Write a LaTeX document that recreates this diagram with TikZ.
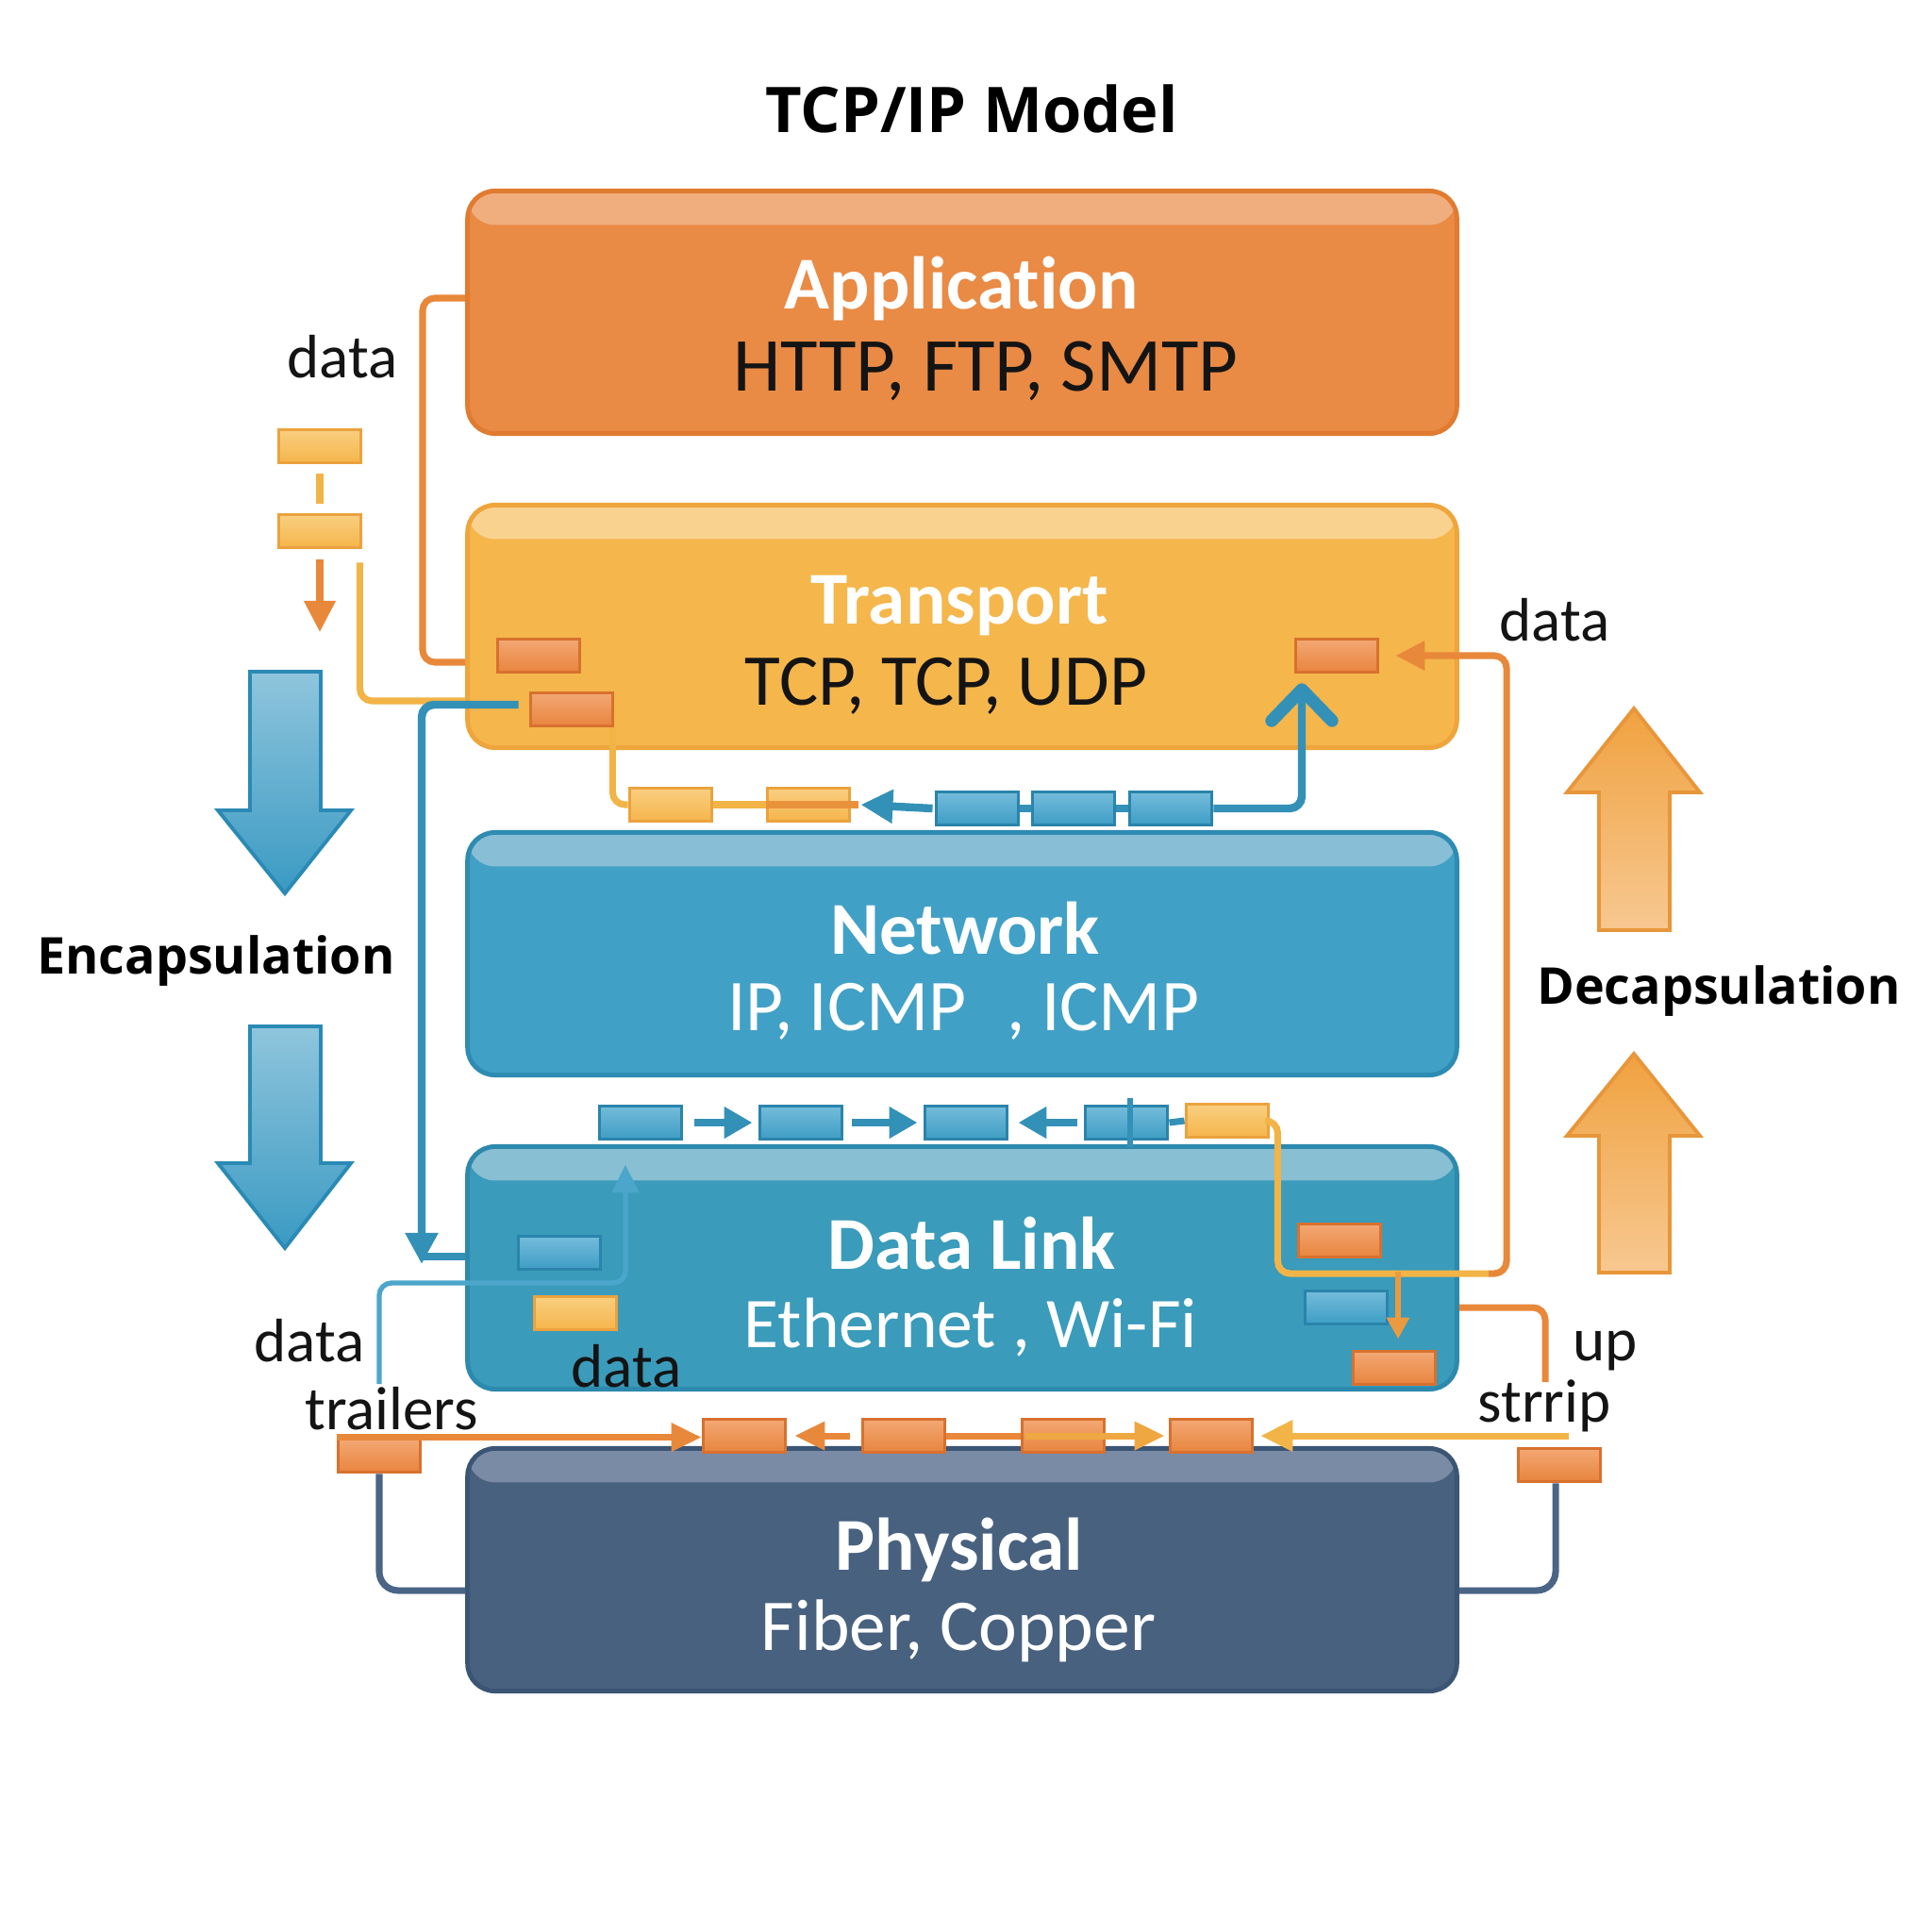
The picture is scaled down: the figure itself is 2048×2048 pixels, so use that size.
\documentclass[tikz,border=0pt]{standalone}
\usepackage{fontspec}
\setmainfont{Carlito}[Ligatures={NoCommon}]
\newfontfamily\headfont{Open Sans}
\usetikzlibrary{arrows.meta,calc}
\definecolor{appF}{HTML}{E98A45}
\definecolor{appB}{HTML}{F0AE7E}
\definecolor{appD}{HTML}{E07B30}
\definecolor{traF}{HTML}{F5B64C}
\definecolor{traB}{HTML}{F9D290}
\definecolor{traD}{HTML}{EEA53C}
\definecolor{netF}{HTML}{41A0C6}
\definecolor{netB}{HTML}{88BED6}
\definecolor{netD}{HTML}{2E8BB2}
\definecolor{dlF}{HTML}{3A9BBB}
\definecolor{dlB}{HTML}{88BFD3}
\definecolor{dlD}{HTML}{2D89AD}
\definecolor{phyF}{HTML}{48617F}
\definecolor{phyB}{HTML}{7A8BA5}
\definecolor{phyD}{HTML}{3B5575}
\definecolor{oLine}{HTML}{E8883A}
\definecolor{yLine}{HTML}{F2B446}
\definecolor{bLine}{HTML}{3391B8}
\definecolor{lbLine}{HTML}{4CA6CB}
\definecolor{sLine}{HTML}{4A6585}
\definecolor{txt}{HTML}{141414}
\definecolor{oTop}{HTML}{F3A774}
\definecolor{oBot}{HTML}{E8853E}
\definecolor{oBrd}{HTML}{D8712E}
\definecolor{yTop}{HTML}{F9CF80}
\definecolor{yBot}{HTML}{F5B54B}
\definecolor{yBrd}{HTML}{EBA23E}
\definecolor{bTop}{HTML}{74BCDB}
\definecolor{bBot}{HTML}{3E9DC5}
\definecolor{bBrd}{HTML}{2A84AB}
\definecolor{eTop}{HTML}{8FC5DC}
\definecolor{eBot}{HTML}{3A9AC3}
\definecolor{eBrd}{HTML}{2A8AB5}
\definecolor{dTop}{HTML}{F0A240}
\definecolor{dBot}{HTML}{F7C891}
\definecolor{dBrd}{HTML}{E8963A}
\begin{document}
\begin{tikzpicture}[x=0.01cm,y=-0.01cm,
  layer/.style={rounded corners=0.29cm, minimum width=10.48cm, minimum height=2.57cm, line width=1.4pt, inner sep=0pt},
  band/.style={path picture={\fill[#1] (path picture bounding box.north west) rectangle ([yshift=-0.36cm]path picture bounding box.north east);}},
  ltitle/.style={text=white, font=\bfseries\fontsize{22.5}{27}\selectfont, inner sep=0pt},
  lsub/.style={font=\fontsize{22}{26}\selectfont, inner sep=0pt},
  pkt/.style={minimum width=0.87cm, minimum height=0.35cm, inner sep=0pt, line width=1.1pt},
  opkt/.style={pkt, draw=oBrd, top color=oTop, bottom color=oBot},
  ypkt/.style={pkt, draw=yBrd, top color=yTop, bottom color=yBot},
  bpkt/.style={pkt, draw=bBrd, top color=bTop, bottom color=bBot},
  lbl/.style={text=txt, font=\fontsize{18.5}{22}\selectfont, inner sep=0pt},
  side/.style={text=black, font=\headfont\bfseries\fontsize{15.3}{18}\selectfont, inner sep=0pt},
  ol/.style={draw=oLine, line width=2pt, rounded corners=0.13cm},
  yl/.style={draw=yLine, line width=2pt, rounded corners=0.13cm},
  bl/.style={draw=bLine, line width=2.4pt, rounded corners=0.13cm},
  tbl/.style={draw=lbLine, line width=1.5pt, rounded corners=0.13cm},
  sl/.style={draw=sLine, line width=2pt, rounded corners=0.2cm},
  barr/.style={draw=bLine, line width=2.4pt, -{Triangle[width=3.2mm,length=3mm]}},
  oarr/.style={draw=oLine, line width=2pt, -{Triangle[width=2.9mm,length=3.2mm]}},
  encarrow/.style={draw=eBrd, line width=1.1pt, top color=eTop, bottom color=eBot},
  decarrow/.style={draw=dBrd, line width=1.1pt, top color=dTop, bottom color=dBot}
]
\useasboundingbox[fill=white] (0,0) rectangle (2048,2048);

% title
\node[text=black, font=\headfont\bfseries\fontsize{19}{23}\selectfont, inner sep=0pt] (title) at (1030,115) {TCP/IP Model};

% layers
\node[layer, fill=appF, draw=appD, band=appB] (app) at (1020,331) {};
\node[layer, fill=traF, draw=traD, band=traB] (tra) at (1020,664) {};
\node[layer, fill=netF, draw=netD, band=netB] (net) at (1020,1011) {};
\node[layer, fill=dlF, draw=dlD, band=dlB] (dl) at (1020,1344) {};
\node[layer, fill=phyF, draw=phyD, band=phyB] (phy) at (1020,1664) {};

\node[ltitle] (appT) at (1019,306) {Application};
\node[lsub, text=txt, font=\fontsize{23}{27}\selectfont] (appS) at (1045,393) {HTTP, FTP, SMTP};
\node[ltitle] (traT) at (1017,642) {Transport};
\node[lsub, text=txt] (traS) at (1003,727) {TCP, TCP, UDP};
\node[ltitle] (netT) at (1023,984) {Network};
\node[lsub, text=white] (netS) at (1021,1072) {IP, ICMP\hspace{0.55em}, ICMP};
\node[ltitle] (dlT) at (1030,1318) {Data Link};
\node[lsub, text=white, font=\fontsize{21.5}{26}\selectfont] (dlS) at (1029,1407) {Ethernet , Wi-Fi};
\node[ltitle] (phyT) at (1017,1643) {Physical};
\node[lsub, text=white] (phyS) at (1016,1729) {Fiber, Copper};

% big arrows
\path[encarrow] (265,712) -- (340,712) -- (340,859) -- (372,859) -- (302,947) -- (231,859) -- (265,859) -- cycle;
\path[encarrow] (265,1088) -- (340,1088) -- (340,1233) -- (372,1233) -- (302,1323) -- (231,1233) -- (265,1233) -- cycle;
\path[decarrow] (1732,751) -- (1802,840) -- (1770,840) -- (1770,986) -- (1695,986) -- (1695,840) -- (1661,840) -- cycle;
\path[decarrow] (1732,1117) -- (1802,1204) -- (1770,1204) -- (1770,1349) -- (1695,1349) -- (1695,1204) -- (1661,1204) -- cycle;

% side labels
\node[side] (enc) at (229,1019) {Encapsulation};
\node[side] (dec) at (1822,1051) {Decapsulation};
\node[lbl] (lData1) at (363,378) {data};
\node[lbl] (lData2) at (1648,657) {data};
\node[lbl] (lData3) at (328,1421) {data};
\node[lbl] (lTrail) at (415,1493) {trailers};
\node[lbl] (lData4) at (664,1448) {data};
\node[lbl] (lUp) at (1702,1432) {up};
\node[lbl] (lStrip) at (1637,1490) {strrip};

% packet nodes
\node[ypkt] (p1) at (339,473) {};
\node[ypkt] (p2) at (339,563) {};

% connectors behind packets
\draw[ol] (app.west |- 0,316) -- (448,316) |- (tra.west |- 0,702);
\draw[draw=yLine, line width=2pt, shorten <=2.6pt, shorten >=2.6pt] (p1.south) -- (p2.north);
\coordinate (encTip) at (339,670);
\draw[oarr, -{Triangle[width=3.2mm,length=3.3mm]}] ($(p2.south)+(0,11)$) -- (encTip);
\draw[yl] ($(p2.south east)+(-3,14)$) |- (tra.west |- 0,743);

\node[opkt] (t1) at (571,695) {};
\node[opkt] (t2) at (606,752) {};
\node[opkt] (t3) at (1417,695) {};

\coordinate (dlTip) at (447,1340);
\draw[bl, -{Triangle[width=3.3mm,length=3.3mm]}] ($(t2.west)+(-11,-5)$) -| (dlTip);
\draw[bl] (dlTip |- 0,1332) -- (dl.west |- 0,1332);

% middle row transport/network
\node[ypkt] (m1) at (711,853) {};
\node[ypkt] (m2) at (857,853) {};
\node[bpkt] (m3) at (1036,857) {};
\node[bpkt] (m4) at (1138,857) {};
\node[bpkt] (m5) at (1241,857) {};
\draw[yl] ($(t2.south east)+(-2,0)$) |- (m1.west);
\draw[yl] (m1.east) -- (m2.west);
\draw[draw=oLine!80!yLine, line width=2.2pt] (m2.west) -- ($(m2.east)+(8,0)$);
\draw[barr, -{Triangle[width=3.4mm,length=3.4mm]}] ($(m3.west)+(-2,0)$) -- ($(m2.east)+(10,0)$);
\draw[bl] (m3.east) -- (m4.west);
\draw[bl] (m4.east) -- (m5.west);
\coordinate (chev) at (1380,731);
\draw[bl] (m5.east) -| (chev);
\draw[draw=bLine, line width=3.8pt, line cap=round, line join=round] ($(chev)+(-32,33)$) -- (chev) -- ($(chev)+(32,33)$);

% row network/datalink
\node[bpkt] (n1) at (679,1190) {};
\node[bpkt] (n2) at (849,1190) {};
\node[bpkt] (n3) at (1024,1190) {};
\node[bpkt] (n4) at (1194,1190) {};
\node[ypkt] (n5) at (1301,1188) {};
\draw[barr] ($(n1.east)+(12,0)$) -- ($(n2.west)+(-6,0)$);
\draw[barr] ($(n2.east)+(9,0)$) -- ($(n3.west)+(-6,0)$);
\draw[barr] ($(n4.west)+(-7,0)$) -- ($(n3.east)+(10,0)$);
\draw[draw=bLine, line width=1.8pt] ($(n4.north)+(4,-7)$) -- ($(n4.south)+(4,7)$);
\draw[draw=bLine, line width=2pt] (n4.east) -- (n5.west);

% data link packets
\node[bpkt] (d1) at (593,1328) {};
\node[ypkt] (d2) at (610,1392) {};
\node[opkt] (d3) at (1420,1315) {};
\node[bpkt] (d4) at (1427,1386) {};
\node[opkt] (d5) at (1478,1450) {};

% yellow/orange loop to transport
\coordinate (joinY) at (1578,1350);
\draw[yl] (n5.east) -- ++(8,0) |- (joinY);
\draw[ol, -{Triangle[width=3mm,length=3.1mm]}] (joinY) -- (1597,1350) |- ($(t3.east)+(17,0)$);
\draw[draw=oLine!60!yLine, line width=1.8pt, -{Triangle[width=2.3mm,length=2.3mm]}] ($(d5.north)+(4,-83)$) -- ($(d5.north)+(4,-11)$);
\draw[ol] (dl.east |- 0,1386) -| (1638,1465);

% thin blue in data link
\coordinate (tbStart) at (402,1467);
\draw[tbl, -{Triangle[width=2.8mm,length=3mm]}] (tbStart) |- (663,1360) -- ($(n1.south)+(-16,25)$);

% physical row
\node[opkt] (f0) at (402,1543) {};
\node[opkt] (f1) at (789,1522) {};
\node[opkt] (f2) at (958,1522) {};
\node[opkt] (f3) at (1127,1522) {};
\node[opkt] (f4) at (1284,1522) {};
\node[opkt] (f5) at (1653,1553) {};
\draw[sl] (f0.south) |- (phy.west |- 0,1686);
\draw[sl] ($(f5.south)+(-4,0)$) |- (phy.east |- 0,1686);
\draw[oarr] (f0.north west) -- (f0.north west -| f1.west);
\draw[oarr] ($(f2.west)+(-12,0)$) -- ($(f1.east)+(8,0)$);
\draw[ol] (f2.east) -- (f3.west);
\draw[draw=yLine!70!oLine, line width=2pt, -{Triangle[width=2.9mm,length=3.2mm]}] ($(f3.west)+(5,0)$) -- ($(f4.west)+(-4,0)$);
\coordinate (yEnd) at (1663,1522);
\draw[yl, -{Triangle[width=3.2mm,length=3.4mm]}] (yEnd) -- ($(f4.east)+(7,0)$);
\end{tikzpicture}
\end{document}
